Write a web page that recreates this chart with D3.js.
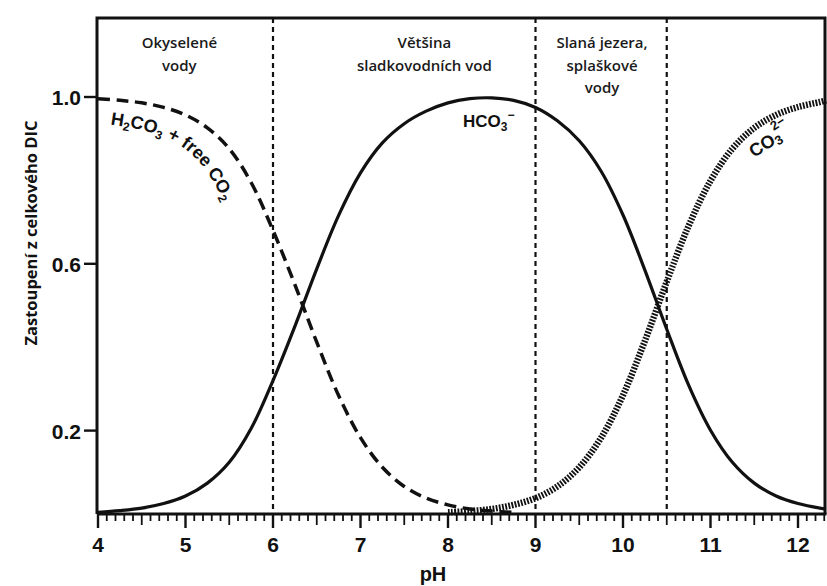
<!DOCTYPE html>
<html>
<head>
<meta charset="utf-8">
<script src="https://cdn.jsdelivr.net/npm/d3@7"></script>
<style>
  html, body { margin: 0; padding: 0; background: #ffffff; }
  svg { display: block; }
</style>
</head>
<body>
<svg id="chart" width="827" height="586"></svg>
<script>
// Carbonate speciation: fraction of total dissolved inorganic carbon vs pH
const pH = [4.0, 4.25, 4.5, 4.75, 5.0, 5.25, 5.5, 5.75, 6.0, 6.25, 6.5, 6.75,
            7.0, 7.25, 7.5, 7.75, 8.0, 8.25, 8.5, 8.75, 9.0, 9.25, 9.5, 9.75,
            10.0, 10.25, 10.5, 10.75, 11.0, 11.25, 11.5, 11.75, 12.0, 12.25, 12.32];

const h2co3 = [0.996, 0.992, 0.986, 0.975, 0.957, 0.926, 0.876, 0.795, 0.680, 0.550, 0.412, 0.284,
               0.183, 0.112, 0.066, 0.038, 0.022, 0.012, 0.007, 0.004, 0.002, 0.001, 0.000, 0.000,
               0.000, 0.000, 0.000, 0.000, 0.000, 0.000, 0.000, 0.000, 0.000, 0.000, 0.000];

const hco3 = [0.004, 0.008, 0.014, 0.025, 0.043, 0.074, 0.124, 0.205, 0.320, 0.450, 0.588, 0.716,
              0.818, 0.890, 0.936, 0.966, 0.986, 0.996, 0.998, 0.992, 0.975, 0.943, 0.895, 0.822,
              0.717, 0.585, 0.443, 0.309, 0.201, 0.124, 0.074, 0.043, 0.025, 0.014, 0.012];

const co3 = [0.000, 0.000, 0.000, 0.000, 0.000, 0.000, 0.000, 0.000, 0.000, 0.000, 0.000, 0.000,
             0.000, 0.001, 0.001, 0.002, 0.004, 0.007, 0.012, 0.022, 0.038, 0.066, 0.112, 0.183,
             0.285, 0.415, 0.557, 0.691, 0.799, 0.876, 0.926, 0.957, 0.976, 0.988, 0.992];

const xTicks = [4, 5, 6, 7, 8, 9, 10, 11, 12];
const yTicks = [0.2, 0.6, 1.0];

// Water-type zones bounded by vertical dashed lines
const zoneBounds = [6, 9, 10.5];
const zoneLabels = [
  { at: 4.93, lines: ["Okyselené", "vody"] },
  { at: 7.73, lines: ["Většina", "sladkovodních vod"] },
  { at: 9.76, lines: ["Slaná jezera,", "splaškové", "vody"] }
];

const svg = d3.select("#chart");
const frameL = 97, frameR = 825, frameT = 18, frameB = 514;

const x = d3.scaleLinear().domain([4, 12.32]).range([98, 826]);
const y = d3.scaleLinear().domain([0, 1]).range([frameB, 97]);

const numFont = "'Liberation Sans', Arial, sans-serif";
const textFont = "'Open Sans', 'Noto Sans', sans-serif";

// zone separators
svg.append("g").selectAll("line").data(zoneBounds).join("line")
  .attr("x1", d => x(d)).attr("x2", d => x(d))
  .attr("y1", frameT).attr("y2", frameB)
  .attr("stroke", "#111").attr("stroke-width", 2.2)
  .attr("stroke-dasharray", "5 4");

// zone labels
const zl = svg.append("g")
  .attr("font-family", textFont).attr("font-size", 15).attr("font-weight", 600)
  .attr("fill", "#1a1a1a").attr("text-anchor", "middle");
zoneLabels.forEach(z => {
  z.lines.forEach((t, i) => {
    zl.append("text").attr("x", x(z.at)).attr("y", 48 + i * 22.5).text(t);
  });
});

const rows = pH.map((p, i) => ({ p, a: h2co3[i], b: hco3[i], c: co3[i] }));

const lineA = d3.line().defined(d => d.p <= 8.75)
  .x(d => x(d.p)).y(d => y(d.a)).curve(d3.curveCatmullRom);
const lineB = d3.line()
  .x(d => x(d.p)).y(d => y(d.b)).curve(d3.curveCatmullRom);
const lineC = d3.line().defined(d => d.p >= 8.0)
  .x(d => x(d.p)).y(d => y(d.c)).curve(d3.curveCatmullRom);

svg.append("path").attr("d", lineA(rows))
  .attr("fill", "none").attr("stroke", "#111").attr("stroke-width", 3.5)
  .attr("stroke-dasharray", "12 6.5");
svg.append("path").attr("d", lineB(rows))
  .attr("fill", "none").attr("stroke", "#111").attr("stroke-width", 3.2);
svg.append("path").attr("d", lineC(rows))
  .attr("fill", "none").attr("stroke", "#111").attr("stroke-width", 6.5)
  .attr("stroke-dasharray", "1.8 1.4");

// frame
svg.append("path")
  .attr("d", `M${frameL},${frameB} L${frameL},${frameT} L${frameR},${frameT} L${frameR},${frameB}`)
  .attr("fill", "none").attr("stroke", "#111").attr("stroke-width", 3);

// x axis with minor ticks every 0.1
const xAxisG = svg.append("g");
xAxisG.append("line").attr("x1", frameL).attr("x2", frameR + 1.5)
  .attr("y1", frameB).attr("y2", frameB)
  .attr("stroke", "#111").attr("stroke-width", 3.2);
const minor = d3.range(40, 124).map(v => v / 10);
xAxisG.selectAll("line.t").data(minor).join("line").attr("class", "t")
  .attr("x1", d => x(d)).attr("x2", d => x(d))
  .attr("y1", frameB)
  .attr("y2", d => {
    const r = Math.round(d * 10) % 10;
    return frameB + (r === 0 ? 14 : r === 5 ? 11 : 7);
  })
  .attr("stroke", "#111").attr("stroke-width", d => Math.round(d * 10) % 10 === 0 ? 2.4 : 1.8);
xAxisG.selectAll("text").data(xTicks).join("text")
  .attr("x", d => x(d)).attr("y", 552)
  .attr("text-anchor", "middle")
  .attr("font-family", numFont).attr("font-weight", 700).attr("font-size", 21)
  .attr("fill", "#111").text(d => d);

svg.append("text").attr("x", 433).attr("y", 581)
  .attr("text-anchor", "middle")
  .attr("font-family", numFont).attr("font-weight", 700).attr("font-size", 20)
  .attr("fill", "#111").text("pH");

// y axis ticks
const yAxisG = svg.append("g");
yAxisG.selectAll("line").data(yTicks).join("line")
  .attr("x1", frameL - 13).attr("x2", frameL)
  .attr("y1", d => y(d)).attr("y2", d => y(d))
  .attr("stroke", "#111").attr("stroke-width", 2.4);
yAxisG.selectAll("text").data(yTicks).join("text")
  .attr("x", 81).attr("y", d => y(d) + 8)
  .attr("text-anchor", "end")
  .attr("font-family", numFont).attr("font-weight", 700).attr("font-size", 21)
  .attr("fill", "#111").text(d => d.toFixed(1));

svg.append("text")
  .attr("transform", "translate(37,233) rotate(-90)")
  .attr("text-anchor", "middle")
  .attr("font-family", textFont).attr("font-weight", 700).attr("font-size", 16.5)
  .attr("fill", "#111").text("Zastoupení z celkového DIC");

// curve labels
// H2CO3 label follows the dashed curve, offset toward its inner side
const pts = rows.filter(d => d.p <= 6.5).map(d => [x(d.p), y(d.a), d.p]);
const offPts = pts.map((p, i) => {
  const a = pts[Math.max(0, i - 1)], b = pts[Math.min(pts.length - 1, i + 1)];
  const dx = b[0] - a[0], dy = b[1] - a[1], L = Math.hypot(dx, dy);
  const off = 24 + 9 * Math.min(1, (p[2] - 4) / 1.75);
  return [p[0] - dy / L * off, p[1] + dx / L * off];
});
svg.append("defs").append("path").attr("id", "h2co3Path")
  .attr("d", d3.line().curve(d3.curveCatmullRom)(offPts));

const lblA = svg.append("text")
  .attr("font-family", numFont).attr("font-weight", 700).attr("font-size", 18)
  .attr("fill", "#111");
const tp = lblA.append("textPath").attr("href", "#h2co3Path").attr("startOffset", 14);
tp.append("tspan").text("H");
tp.append("tspan").attr("font-size", 12).attr("dy", 4).text("2");
tp.append("tspan").attr("dy", -4).text("CO");
tp.append("tspan").attr("font-size", 12).attr("dy", 4).text("3");
tp.append("tspan").attr("dy", -4).text(" + free CO");
tp.append("tspan").attr("font-size", 12).attr("dy", 4).text("2");

const lblB = svg.append("text").attr("x", 463).attr("y", 127)
  .attr("font-family", numFont).attr("font-weight", 700).attr("font-size", 17)
  .attr("fill", "#111");
lblB.append("tspan").text("HCO");
lblB.append("tspan").attr("font-size", 12).attr("dy", 4).text("3");
lblB.append("tspan").attr("font-size", 12).attr("dy", -12).text("−");

const lblC = svg.append("text")
  .attr("transform", "translate(754,158) rotate(-33)")
  .attr("font-family", numFont).attr("font-weight", 700).attr("font-size", 18)
  .attr("fill", "#111");
lblC.append("tspan").text("CO");
lblC.append("tspan").attr("font-size", 13).attr("dy", 3).text("3");
lblC.append("tspan").attr("font-size", 13).attr("dy", -15).attr("dx", -3).text("2−");
</script>
</body>
</html>
